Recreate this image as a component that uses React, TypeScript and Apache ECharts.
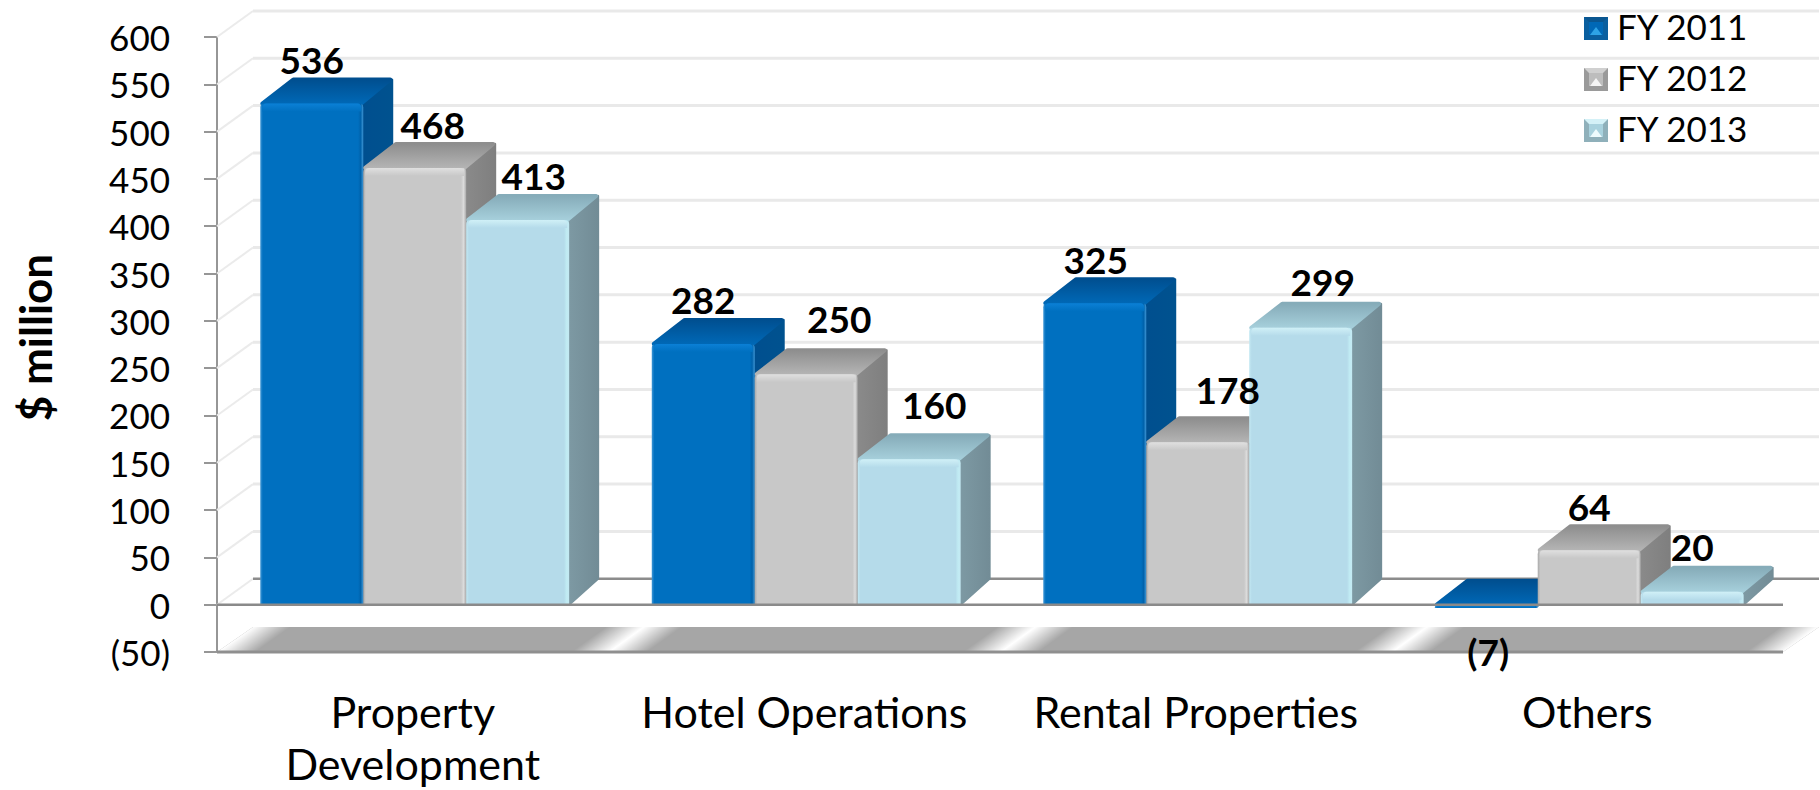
import React, { useEffect, useRef } from "react";
import * as echarts from "echarts";

const categories = ["Property\nDevelopment", "Hotel Operations", "Rental Properties", "Others"];
const seriesNames = ["FY 2011", "FY 2012", "FY 2013"];
const fy2011 = [536, 282, 325, -7];
const fy2012 = [468, 250, 178, 64];
const fy2013 = [413, 160, 299, 20];
const wallTicks = [-50, 0, 50, 100, 150, 200, 250, 300, 350, 400, 450, 500, 550, 600];

const FONT = "Lato";
const DEPTH_X = 36;
const DEPTH_Y = -26;
const BAR_DX = 30;
const BAR_SHIFT = 6;
const BAR_W = 0.263;
const BAR_OFF = [-0.258, 0.005, 0.268];
const nudges: number[][][] = [
  [[0, -44], [0, -44], [1, -44], [2, 47]],
  [[18, -43], [33, -56], [30, -53], [0, -44]],
  [[16, -44], [25, -55], [22, -46], [0, -45]],
];
const palette = [
  { front: "#0070c0", left: "#3f97d6", right: "#0062ab", topBack: "#004f90", topFront: "#0068b6", sideA: "#004f8f", sideB: "#00528f", hi: "#0b80d6" },
  { front: "#c8c8c8", left: "#a9a9a9", right: "#dcdcdc", topBack: "#8e8e8e", topFront: "#b4b4b4", sideA: "#8a8a8a", sideB: "#7f7f7f", hi: "#e0e0e0" },
  { front: "#b5dbea", left: "#c4e9f3", right: "#c0ebf3", topBack: "#86acb9", topFront: "#a6cfdb", sideA: "#7d99a3", sideB: "#728c96", hi: "#d0f0f7" },
];
const legendMarks = [
  { y: 17, outer: "#0a5f9f", inner: "#0068b6", tip: "#2ea3e6", band: "#0a5690" },
  { y: 68, outer: "#9a9a9a", inner: "#bdbdbd", tip: "#f4f4f4", band: "#d0d0d0" },
  { y: 119, outer: "#8fb0ba", inner: "#a9d2de", tip: "#eefbfd", band: "#d4f1f7" },
];

const linear = (a: string, b: string, vertical = true) =>
  new echarts.graphic.LinearGradient(0, 0, vertical ? 0 : 1, vertical ? 1 : 0, [
    { offset: 0, color: a },
    { offset: 1, color: b },
  ]);

const barBox = (k: number, api: any) => {
  const cat = api.value(0);
  const v = api.value(1);
  const band = api.size([1, 0])[0];
  const w = band * BAR_W;
  const zero = api.coord([cat, 0]);
  const valueY = api.coord([cat, v])[1];
  const l = zero[0] + band * BAR_OFF[k] - w / 2;
  const top = v >= 0 ? valueY + BAR_SHIFT : zero[1];
  const bottom = v >= 0 ? zero[1] : zero[1] + (valueY - zero[1]) / 2;
  return { cat, v, w, l, r: l + w, top, bottom, zeroY: zero[1] };
};

const renderBar = (k: number) => (_p: any, api: any) => {
  const { w, l, r, top, bottom, zeroY } = barBox(k, api);
  const c = palette[k];
  const topFill = linear(c.topBack, c.topFront);
  const sideFill = linear(c.sideA, c.sideB, false);
  const children: any[] = [
    {
      type: "polygon",
      shape: { points: [[r, top + 1], [r + BAR_DX - 1, top + DEPTH_Y + 2], [r + BAR_DX - 1, zeroY + DEPTH_Y], [r, zeroY]] },
      style: { fill: sideFill, stroke: sideFill, lineWidth: 2, lineJoin: "round" },
    },
    {
      type: "polygon",
      shape: { points: [[l + 2, top], [l + BAR_DX + 3, top + DEPTH_Y + 2], [r + BAR_DX - 3, top + DEPTH_Y + 2], [r - 2, top]] },
      style: { fill: topFill, stroke: topFill, lineWidth: 4, lineJoin: "round" },
    },
    {
      type: "rect",
      shape: { x: l, y: top, width: w, height: bottom - top, r: [4, 4, 0, 0] },
      style: {
        fill: new echarts.graphic.LinearGradient(0, 0, 1, 0, [
          { offset: 0, color: c.left },
          { offset: 0.025, color: c.front },
          { offset: 0.95, color: c.front },
          { offset: 0.975, color: c.right },
          { offset: 1, color: c.left },
        ]),
      },
    },
    {
      type: "rect",
      shape: { x: l + 2, y: top, width: w - 4, height: Math.min(8, bottom - top), r: [4, 4, 0, 0] },
      style: { fill: linear(c.hi, c.front) },
    },
  ];
  return { type: "group", children };
};

const renderBarLabel = (k: number) => (_p: any, api: any) => {
  const { cat, v, l, r, top } = barBox(k, api);
  const n = nudges[k][cat];
  return {
    type: "text",
    style: {
      text: v < 0 ? `(${-v})` : String(v),
      x: (l + r) / 2 + n[0],
      y: top + n[1],
      align: "center",
      verticalAlign: "middle",
      fontFamily: FONT,
      fontWeight: 700,
      fontSize: 37,
      fill: "#000",
    },
  };
};

const stripe = (cx: number, yBottom: number, left: boolean, right: boolean) => {
  const half = 38;
  const yTop = yBottom + DEPTH_Y + 1;
  const a = left ? half : 0;
  const b = right ? half : 0;
  const norm = Math.hypot(DEPTH_X, DEPTH_Y);
  const gx = (-DEPTH_Y / norm) * (half * (-DEPTH_Y / norm));
  const gy = (DEPTH_X / norm) * (half * (-DEPTH_Y / norm));
  const midX = cx + DEPTH_X / 2;
  const midY = (yBottom + yTop) / 2;
  const fill = new echarts.graphic.LinearGradient(
    midX - gx, midY - gy, midX + gx, midY + gy,
    [
      { offset: 0, color: "rgba(255,255,255,0)" },
      { offset: 0.5, color: "rgba(255,255,255,1)" },
      { offset: 1, color: "rgba(255,255,255,0)" },
    ],
    true
  );
  return {
    type: "polygon",
    shape: {
      points: [
        [cx - a, yBottom],
        [cx - a + DEPTH_X, yTop],
        [cx + b + DEPTH_X, yTop],
        [cx + b, yBottom],
      ],
    },
    style: { fill },
  };
};

const renderWall = (params: any, api: any) => {
  const tick = api.value(1);
  const y = api.coord([0, tick])[1];
  const cs = params.coordSys;
  const x0 = cs.x;
  const x1 = cs.x + cs.width;
  const children: any[] = [];
  if (tick === -50) {
    const band = cs.width / categories.length;
    children.push({
      type: "polygon",
      shape: { points: [[x0, y], [x0 + DEPTH_X, y + DEPTH_Y + 1], [x1 + DEPTH_X, y + DEPTH_Y + 1], [x1, y]] },
      style: { fill: "#a6a6a6" },
    });
    for (let i = 0; i <= categories.length; i++) {
      children.push(stripe(x0 + band * i, y, i > 0, i < categories.length));
    }
    children.push({
      type: "line",
      shape: { x1: x0, y1: y, x2: x1, y2: y },
      style: { stroke: "#8f8f8f", lineWidth: 3 },
    });
  } else {
    const dark = tick === 0;
    children.push({
      type: "line",
      shape: { x1: x0, y1: y, x2: x0 + DEPTH_X, y2: y + DEPTH_Y },
      style: { stroke: "#ebebeb", lineWidth: 2 },
    });
    children.push({
      type: "line",
      shape: { x1: x0 + DEPTH_X, y1: y + DEPTH_Y, x2: x1 + DEPTH_X, y2: y + DEPTH_Y },
      style: { stroke: dark ? "#8c8c8c" : "#e9e9e9", lineWidth: dark ? 2.5 : 3 },
    });
  }
  return { type: "group", children };
};

const renderBaseline = (params: any, api: any) => {
  const y = api.coord([0, 0])[1];
  const cs = params.coordSys;
  return {
    type: "line",
    shape: { x1: cs.x, y1: y, x2: cs.x + cs.width, y2: y },
    style: { stroke: "#8a8a8a", lineWidth: 2.5 },
  };
};

const barSeries = (name: string, values: number[], k: number) => ({
  type: "custom",
  name,
  z: 3 + k,
  itemStyle: { color: palette[k].front },
  renderItem: renderBar(k),
  encode: { x: 0, y: 1 },
  data: values.map((v, i) => [i, v]),
});

const labelSeries = (name: string, values: number[], k: number) => ({
  type: "custom",
  name: `${name} labels`,
  z: 9,
  silent: true,
  renderItem: renderBarLabel(k),
  encode: { x: 0, y: 1 },
  data: values.map((v, i) => [i, v]),
});

const legendGraphics = legendMarks.flatMap((m) => {
  const x = 1584;
  const w = 24;
  const h = 23;
  return [
    { type: "rect", z: 100, shape: { x, y: m.y, width: w, height: h }, style: { fill: m.outer } },
    { type: "polygon", z: 101, shape: { points: [[x, m.y], [x + w, m.y], [x + w - 5, m.y + 5], [x + 5, m.y + 5]] }, style: { fill: m.band } },
    { type: "rect", z: 102, shape: { x: x + 5, y: m.y + 5, width: w - 10, height: h - 10 }, style: { fill: m.inner } },
    { type: "polygon", z: 103, shape: { points: [[x + w / 2, m.y + 10], [x + w - 6, m.y + h - 5], [x + 6, m.y + h - 5]] }, style: { fill: m.tip } },
  ];
});

export default function App() {
  const ref = useRef<HTMLDivElement>(null);
  useEffect(() => {
    const chart = echarts.init(ref.current!, undefined, { renderer: "svg" });
    chart.setOption({
      animation: false,
      backgroundColor: "#ffffff",
      grid: { left: 217, right: 37, top: 37, bottom: 138, containLabel: false, outerBoundsMode: "none" },
      legend: {
        orient: "vertical",
        left: 1584,
        top: 0,
        padding: 0,
        itemWidth: 24,
        itemHeight: 14,
        itemGap: 0,
        selectedMode: false,
        icon: "rect",
        data: seriesNames,
        textStyle: { fontFamily: FONT, fontSize: 35, color: "#000", lineHeight: 51, padding: [0, 0, 0, 4] },
      },
      xAxis: {
        type: "category",
        data: categories,
        axisLine: { show: false, onZero: false },
        axisTick: { show: false },
        axisLabel: { interval: 0, fontFamily: FONT, fontSize: 43, color: "#000", lineHeight: 52, margin: 33 },
      },
      yAxis: {
        type: "value",
        min: -50,
        max: 600,
        interval: 50,
        name: "$ million",
        nameLocation: "middle",
        nameRotate: 90,
        nameGap: 160,
        nameTextStyle: { fontFamily: FONT, fontSize: 44, fontWeight: 700, color: "#000", padding: [0, 0, 0, 14] },
        axisLine: { show: true, lineStyle: { color: "#969696", width: 2 } },
        axisTick: { show: true, length: 13, lineStyle: { color: "#969696", width: 2 } },
        splitLine: { show: false },
        axisLabel: {
          fontFamily: FONT,
          fontSize: 35,
          color: "#000",
          margin: 47,
          formatter: (v: number) => (v < 0 ? `(${-v})` : String(v)),
        },
      },
      series: [
        {
          type: "custom",
          name: "wall",
          z: 1,
          renderItem: renderWall,
          encode: { x: 0, y: 1 },
          data: wallTicks.map((t) => [0, t]),
          silent: true,
        },
        barSeries(seriesNames[0], fy2011, 0),
        barSeries(seriesNames[1], fy2012, 1),
        barSeries(seriesNames[2], fy2013, 2),
        {
          type: "custom",
          name: "baseline",
          z: 8,
          renderItem: renderBaseline,
          encode: { x: 0, y: 1 },
          data: [[0, 0]],
          silent: true,
        },
        labelSeries(seriesNames[0], fy2011, 0),
        labelSeries(seriesNames[1], fy2012, 1),
        labelSeries(seriesNames[2], fy2013, 2),
      ],
      graphic: legendGraphics,
    });
    return () => chart.dispose();
  }, []);
  return <div ref={ref} style={{ position: "fixed", left: 0, top: 0, width: 1820, height: 790 }} />;
}
